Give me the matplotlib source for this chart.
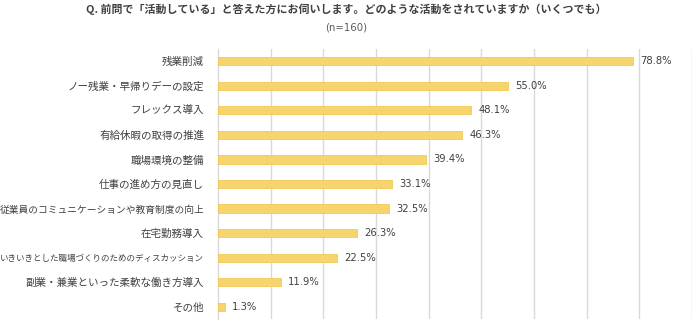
import matplotlib
matplotlib.use('Agg')
import matplotlib.pyplot as plt

plt.rcParams['font.family'] = ['Noto Sans CJK JP', 'DejaVu Sans']

categories = ['残業削減', 'ノー残業・早帰りデーの設定', 'フレックス導入', '有給休暇の取得の推進',
              '職場環境の整備', '仕事の進め方の見直し', '従業員のコミュニケーションや教育制度の向上',
              '在宅勤務導入', 'いきいきとした職場づくりのためのディスカッション',
              '副業・兼業といった柔軟な働き方導入', 'その他']
values = [78.8, 55.0, 48.1, 46.3, 39.4, 33.1, 32.5, 26.3, 22.5, 11.9, 1.3]

title = 'Q. 前問で「活動している」と答えた方にお伺いします。どのような活動をされていますか（いくつでも）'
subtitle = '(n=160)'

W, H = 692, 322
fig = plt.figure(figsize=(W / 100, H / 100), dpi=100)
# 图区：左边 218px，顶 49px，底 319px
ax = fig.add_axes([218 / W, (H - 319) / H, (W - 218) / W, 270 / H])

y = list(range(len(categories)))
ax.barh(y, values, height=0.33, color='#F6D46E', edgecolor='#F2C955', linewidth=0.6, zorder=3)

for yi, v in zip(y, values):
    ax.text(v + 1.4, yi, '%.1f%%' % v, va='center', ha='left', fontsize=7.2,
            color='#404040', family=['DejaVu Sans'])

ax.set_xlim(0, 90)
ax.set_ylim(len(categories) - 0.5, -0.5)
ax.set_xticks(range(10, 91, 10))
ax.xaxis.grid(True, color='#D9D9D9', linewidth=1.0, zorder=0)
ax.tick_params(axis='x', length=0, labelbottom=False)
ax.tick_params(axis='y', length=0, pad=10, labelsize=7.6, labelcolor='#404040')
ax.set_yticks(y)
ax.set_yticklabels(categories)
for s in ['top', 'right', 'bottom']:
    ax.spines[s].set_visible(False)
ax.spines['left'].set_color('#D9D9D9')
ax.spines['left'].set_linewidth(1.0)

# 长标签缩小字号，保证左边不被截断
fig.canvas.draw()
r = fig.canvas.get_renderer()
for lab in ax.get_yticklabels():
    w = lab.get_window_extent(r).width
    if w > 203:
        lab.set_fontsize(7.6 * 203 / w)

fig.text(0.5, 1 - 9 / H, title, ha='center', va='center', fontsize=7.9,
         fontweight='bold', color='#404040')
fig.text(0.5, 1 - 28 / H, subtitle, ha='center', va='center', fontsize=7.3,
         color='#595959', family=['DejaVu Sans'])

fig.savefig('out.png', dpi=100)
